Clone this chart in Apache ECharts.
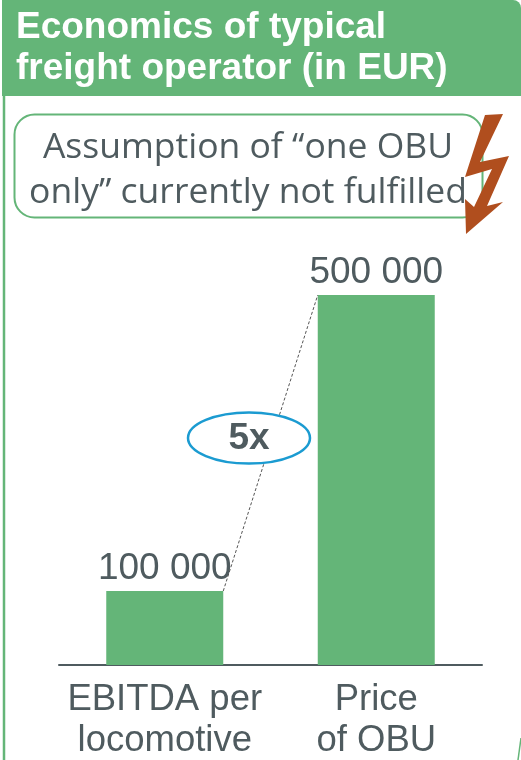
<!DOCTYPE html>
<html><head><meta charset="utf-8">
<style>html,body{margin:0;padding:0;background:#fff}#c{width:521px;height:760px}</style>
<script src="https://cdn.jsdelivr.net/npm/echarts@6/dist/echarts.min.js"></script>
</head><body><div id="c"></div>
<script>
const categories = ["EBITDA per\nlocomotive", "Price\nof OBU"];
const values = [100000, 500000];
const valueLabels = ["100 000", "500 000"];
const titleText = "Economics of typical\nfreight operator (in EUR)";
const noteText = "Assumption of “one OBU\nonly” currently not fulfilled";
const multipleText = "5x";
const GREEN = "#64b578", DARK = "#4f5b5f", BOLT = "#b04e1e", BLUE = "#1b9bd1";
const chart = echarts.init(document.getElementById("c"), null, {renderer: "canvas"});
chart.setOption({
  animation: false,
  backgroundColor: "#fff",
  grid: {left: 59, right: 39, top: 295, bottom: 95, outerBoundsMode: "none"},
  xAxis: {
    type: "category", data: categories,
    axisLine: {lineStyle: {color: DARK, width: 2}},
    axisTick: {show: false},
    axisLabel: {interval: 0, color: DARK, fontFamily: "Liberation Sans", fontSize: 36.5, lineHeight: 41, margin: 14}
  },
  yAxis: {type: "value", min: 0, max: 500000, show: false, splitLine: {show: false}},
  series: [
    {
      type: "bar", data: values, barWidth: 117, z: 2,
      itemStyle: {color: GREEN},
      label: {show: true, position: "top", distance: 4, color: DARK,
        fontFamily: "Liberation Sans", fontSize: 37,
        formatter: p => valueLabels[p.dataIndex]}
    },
    {
      type: "custom", z: 3, silent: true, data: [[0, values[0], 1, values[1]]],
      encode: {x: [0, 2], y: [1, 3]},
      renderItem(params, api) {
        const a = api.coord([api.value(0), api.value(1)]);
        const b = api.coord([api.value(2), api.value(3)]);
        return {type: "line",
          shape: {x1: a[0] + 58.5, y1: a[1], x2: b[0] - 58.5, y2: b[1]},
          style: {stroke: "#555", lineWidth: 1, lineDash: [3, 2]}};
      }
    }
  ],
  graphic: [
    {type: "rect", z: 1, shape: {x: 2, y: 0, width: 519, height: 96, r: [0, 8, 0, 0]}, style: {fill: GREEN}},
    {type: "line", z: 1, shape: {x1: 4, y1: 96, x2: 4, y2: 760}, style: {stroke: GREEN, lineWidth: 2.5}},
    {type: "line", z: 1, shape: {x1: 521, y1: 738, x2: 518, y2: 760}, style: {stroke: GREEN, lineWidth: 1.5}},
    {type: "text", z: 5, x: 16, y: 7, style: {text: titleText, fill: "#fff",
      font: "bold 37px 'Liberation Sans'", lineHeight: 41}},
    {type: "rect", z: 4, shape: {x: 14.5, y: 114.5, width: 468, height: 103, r: 20},
      style: {fill: "#fff", stroke: GREEN, lineWidth: 2}},
    {type: "text", z: 5, x: 248, y: 125, style: {text: noteText, fill: DARK, align: "center",
      font: "35.5px 'Open Sans'", lineHeight: 45}},
    {type: "polygon", z: 6, shape: {points: [[503,114],[485,115],[465,177],[492,169],[474,207],[465,199],[466,234],[503,202],[487,206],[509,156],[480,162]]},
      style: {fill: BOLT}},
    {type: "ellipse", z: 6, shape: {cx: 249, cy: 438, rx: 61, ry: 25.5},
      style: {fill: "#fff", stroke: BLUE, lineWidth: 2.5}},
    {type: "text", z: 7, x: 249, y: 439, style: {text: multipleText, fill: DARK, align: "center", verticalAlign: "middle",
      font: "bold 37px 'Liberation Sans'"}}
  ]
});
</script></body></html>
